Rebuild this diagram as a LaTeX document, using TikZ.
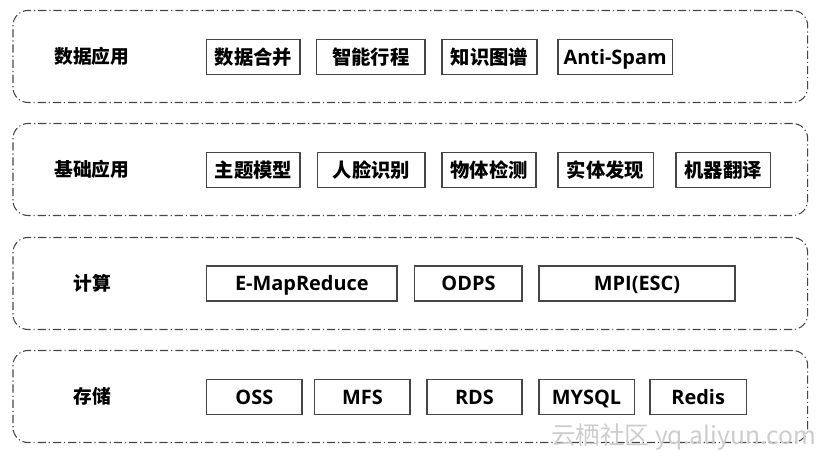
\documentclass[tikz,border=0pt]{standalone}
\usepackage{fontspec}
\usepackage{xcolor}
\usepackage{tikz}
\usetikzlibrary{positioning}
\setmainfont{Open Sans}
\newfontfamily\cjk{Noto Sans CJK SC}
\definecolor{linegray}{RGB}{70, 70, 70}
\definecolor{markgray}{RGB}{205, 205, 205}

\begin{document}
\begin{tikzpicture}[
    layer/.style={draw=linegray, line width=0.9pt, rounded corners=0.45cm,
                  dash pattern=on 7pt off 2.5pt on 1pt off 2.5pt,
                  minimum width=23.84cm, minimum height=2.76cm},
    tag/.style={font=\cjk\bfseries\fontsize{16}{19}\selectfont},
    item/.style={draw=linegray, line width=1.2pt, minimum height=1.04cm,
                 inner sep=0pt, text height=14.6pt, text depth=2.5pt,
                 font=\bfseries\fontsize{17}{20}\selectfont},
    citem/.style={item, text height=14.5pt, text depth=2.0pt,
                  font=\cjk\bfseries\fontsize{16.5}{19}\selectfont}
]
    \useasboundingbox (0,0) rectangle (24.81,-13.89);

    % layers
    \node[layer] (apps) at (12.31,-1.695) {};
    \node[layer] (base) at (12.31,-5.085) {};
    \node[layer] (comp) at (12.31,-8.505) {};
    \node[layer] (store) at (12.31,-11.895) {};

    % data applications
    \node[tag] (appstag) at (2.76,-1.68) {数据应用};
    \node[citem, minimum width=2.80cm, anchor=west] (merge) at (6.18,-1.71) {数据合并};
    \node[citem, minimum width=3.25cm, right=0.46cm of merge] (trip) {智能行程};
    \node[citem, minimum width=2.86cm, right=0.46cm of trip] (graph) {知识图谱};
    \node[item, minimum width=3.43cm, right=0.58cm of graph] (spam) {Anti-Spam};

    % basic applications
    \node[tag] (basetag) at (2.76,-5.07) {基础应用};
    \node[citem, minimum width=2.80cm, anchor=west] (topic) at (6.18,-5.10) {主题模型};
    \node[citem, minimum width=3.22cm, right=0.49cm of topic] (face) {人脸识别};
    \node[citem, minimum width=2.83cm, right=0.46cm of face] (object) {物体检测};
    \node[citem, minimum width=2.86cm, right=0.61cm of object] (entity) {实体发现};
    \node[citem, minimum width=2.83cm, right=0.64cm of entity] (translate) {机器翻译};

    % computing
    \node[tag] (comptag) at (2.76,-8.49) {计算};
    \node[item, minimum width=5.71cm, anchor=west] (emr) at (6.18,-8.505) {E-MapReduce};
    \node[item, minimum width=3.22cm, right=0.49cm of emr] (odps) {ODPS};
    \node[item, minimum width=5.89cm, right=0.46cm of odps] (mpi) {MPI(ESC)};

    % storage
    \node[tag] (storetag) at (2.76,-11.88) {存储};
    \node[item, minimum width=2.86cm, anchor=west] (oss) at (6.18,-11.91) {OSS};
    \node[item, minimum width=2.86cm, right=0.34cm of oss] (mfs) {MFS};
    \node[item, minimum width=2.86cm, right=0.46cm of mfs] (rds) {RDS};
    \node[item, minimum width=2.86cm, right=0.46cm of rds] (mysql) {MYSQL};
    \node[item, minimum width=2.89cm, right=0.43cm of mysql] (redis) {Redis};

    % watermark
    \node[anchor=east, text=markgray, inner sep=0pt,
          font=\cjk\fontsize{21}{24}\selectfont] (mark) at (24.5,-13.11) {云栖社区 yq.aliyun.com};
\end{tikzpicture}
\end{document}
